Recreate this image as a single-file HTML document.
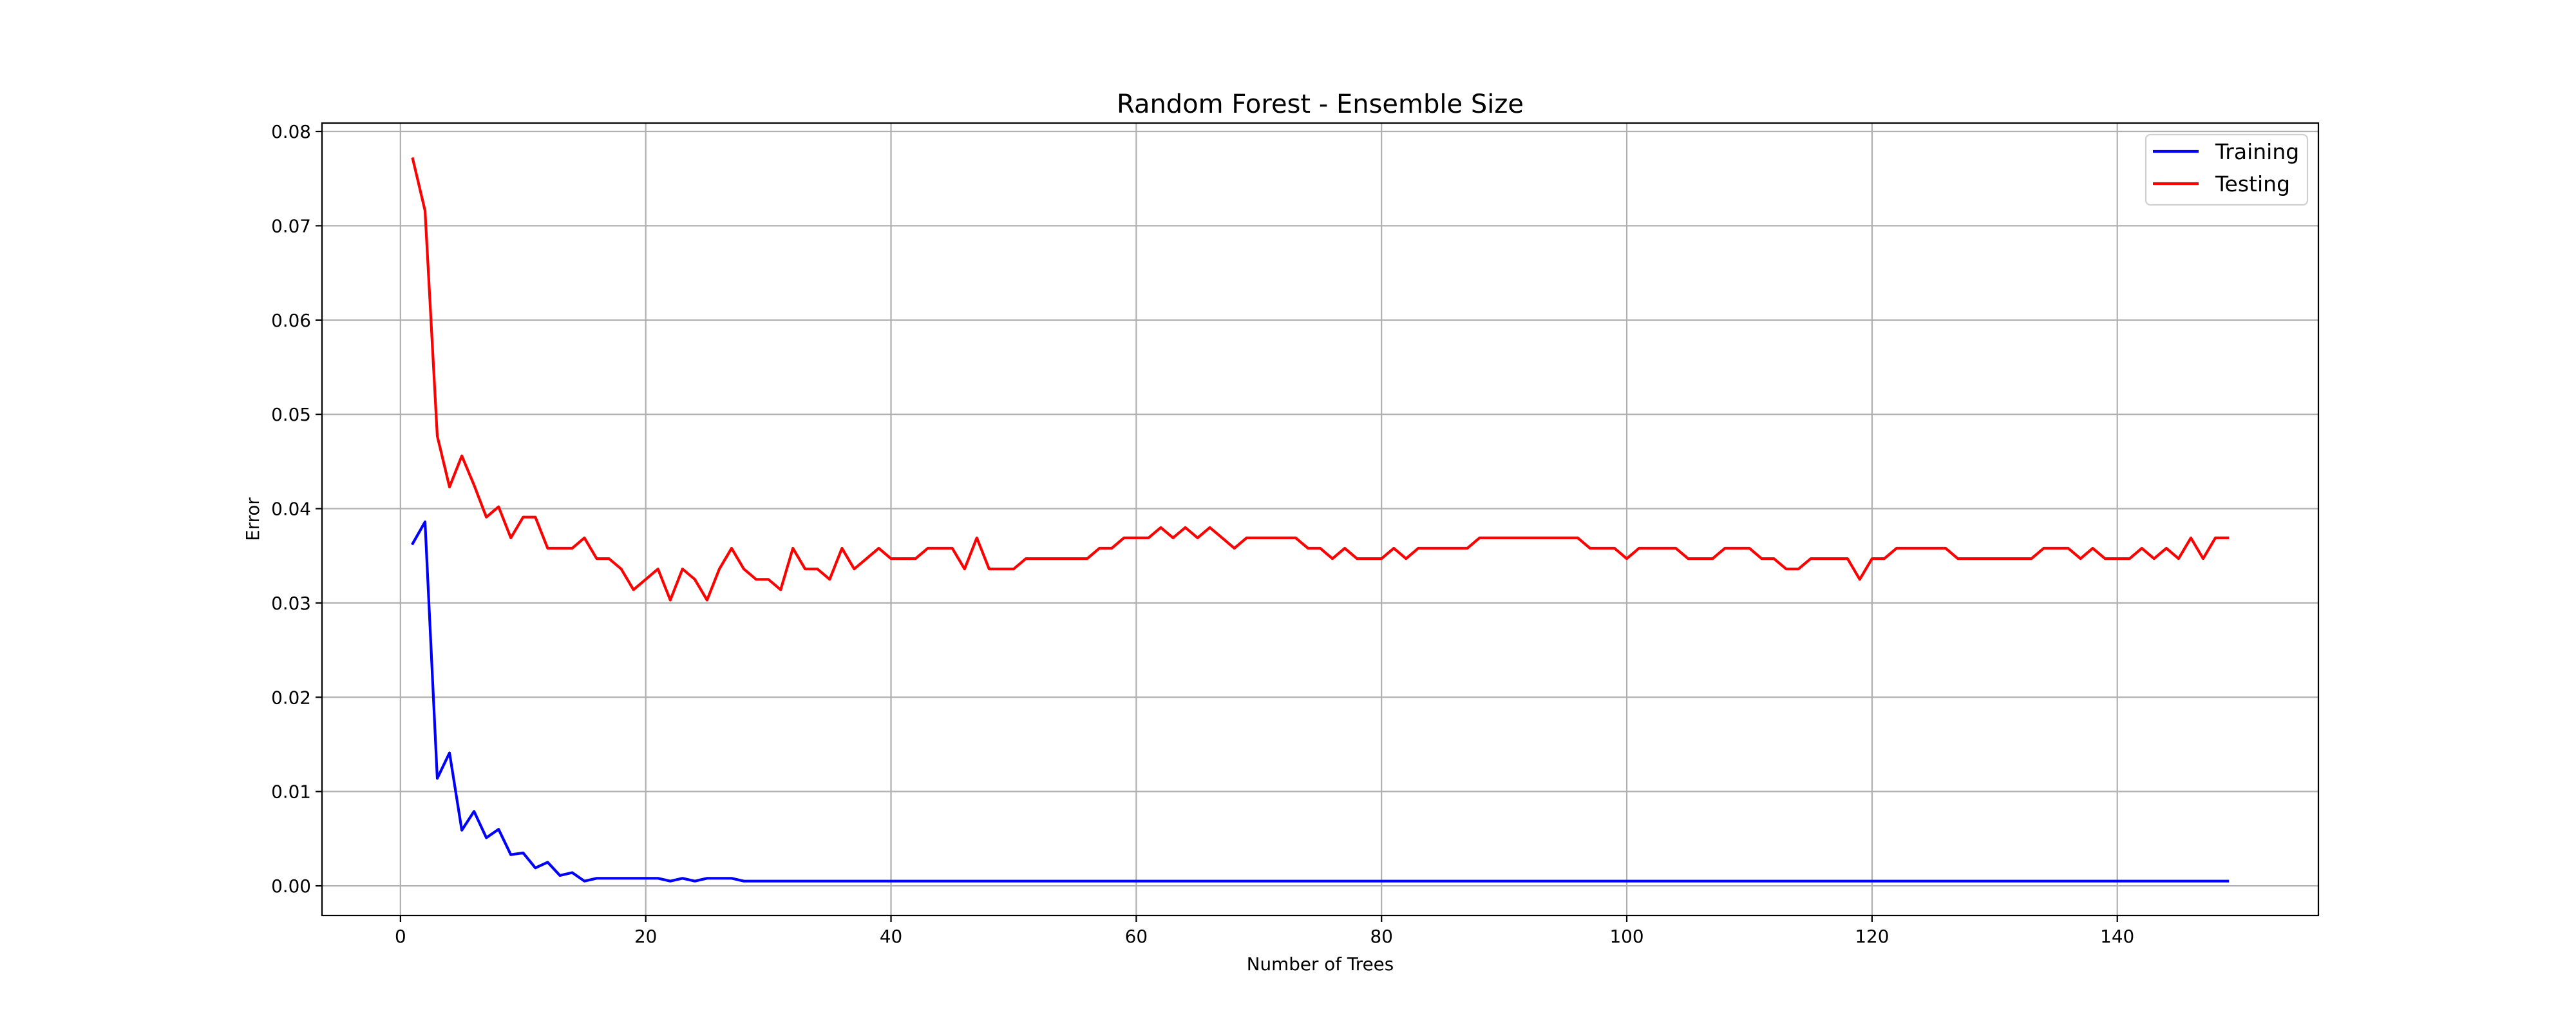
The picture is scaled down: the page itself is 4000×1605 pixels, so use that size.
<!DOCTYPE html>
<html><head><meta charset="utf-8"><style>
html,body{margin:0;padding:0;background:#fff;}
svg text{font-family:"DejaVu Sans","Liberation Sans",sans-serif;}
</style></head><body>
<svg id="chart" width="4000" height="1600" viewBox="0 0 4000 1600" xmlns="http://www.w3.org/2000/svg">
<rect x="0" y="0" width="4000" height="1600" fill="#fff"/>
<g id="grid"></g>
<g id="series"></g>
<rect x="500" y="191" width="3100" height="1230" fill="none" stroke="#000" stroke-width="2.2"/>
<g id="ticks"></g>
<text x="2050" y="175" font-size="40" text-anchor="middle">Random Forest - Ensemble Size</text>
<text x="2050" y="1506" font-size="27.8" text-anchor="middle">Number of Trees</text>
<text x="402" y="806" font-size="27.8" text-anchor="middle" transform="rotate(-90 402 806)">Error</text>
<g>
<rect x="3332" y="209" width="251" height="109" rx="7" fill="#fff" fill-opacity="0.8" stroke="#d0d0d0" stroke-width="2.2"/>
<line x1="3343" y1="235" x2="3414" y2="235" stroke="#0000ff" stroke-width="4.2"/>
<text x="3440" y="247" font-size="33">Training</text>
<line x1="3343" y1="285" x2="3414" y2="285" stroke="#ff0000" stroke-width="4.2"/>
<text x="3440" y="297" font-size="33">Testing</text>
</g>
</svg>
<script>
const trainValues = [0.0363,0.0386,0.0114,0.0141,0.0059,0.0079,0.0051,0.0060,0.0033,0.0035,
0.0019,0.0025,0.0011,0.0014,0.0005,0.0008,0.0008,0.0008,0.0008,0.0008,
0.0008,0.0005,0.0008,0.0005,0.0008,0.0008,0.0008,0.0005,0.0005,0.0005,
0.0005,0.0005,0.0005,0.0005,0.0005,0.0005,0.0005,0.0005,0.0005,0.0005,
0.0005,0.0005,0.0005,0.0005,0.0005,0.0005,0.0005,0.0005,0.0005,0.0005,
0.0005,0.0005,0.0005,0.0005,0.0005,0.0005,0.0005,0.0005,0.0005,0.0005,
0.0005,0.0005,0.0005,0.0005,0.0005,0.0005,0.0005,0.0005,0.0005,0.0005,
0.0005,0.0005,0.0005,0.0005,0.0005,0.0005,0.0005,0.0005,0.0005,0.0005,
0.0005,0.0005,0.0005,0.0005,0.0005,0.0005,0.0005,0.0005,0.0005,0.0005,
0.0005,0.0005,0.0005,0.0005,0.0005,0.0005,0.0005,0.0005,0.0005,0.0005,
0.0005,0.0005,0.0005,0.0005,0.0005,0.0005,0.0005,0.0005,0.0005,0.0005,
0.0005,0.0005,0.0005,0.0005,0.0005,0.0005,0.0005,0.0005,0.0005,0.0005,
0.0005,0.0005,0.0005,0.0005,0.0005,0.0005,0.0005,0.0005,0.0005,0.0005,
0.0005,0.0005,0.0005,0.0005,0.0005,0.0005,0.0005,0.0005,0.0005,0.0005,
0.0005,0.0005,0.0005,0.0005,0.0005,0.0005,0.0005,0.0005,0.0005];
const testValues = [0.0771,0.0716,0.0477,0.0423,0.0456,0.0425,0.0391,0.0402,0.0369,0.0391,
0.0391,0.0358,0.0358,0.0358,0.0369,0.0347,0.0347,0.0336,0.0314,0.0325,
0.0336,0.0303,0.0336,0.0325,0.0303,0.0336,0.0358,0.0336,0.0325,0.0325,
0.0314,0.0358,0.0336,0.0336,0.0325,0.0358,0.0336,0.0347,0.0358,0.0347,
0.0347,0.0347,0.0358,0.0358,0.0358,0.0336,0.0369,0.0336,0.0336,0.0336,
0.0347,0.0347,0.0347,0.0347,0.0347,0.0347,0.0358,0.0358,0.0369,0.0369,
0.0369,0.0380,0.0369,0.0380,0.0369,0.0380,0.0369,0.0358,0.0369,0.0369,
0.0369,0.0369,0.0369,0.0358,0.0358,0.0347,0.0358,0.0347,0.0347,0.0347,
0.0358,0.0347,0.0358,0.0358,0.0358,0.0358,0.0358,0.0369,0.0369,0.0369,
0.0369,0.0369,0.0369,0.0369,0.0369,0.0369,0.0358,0.0358,0.0358,0.0347,
0.0358,0.0358,0.0358,0.0358,0.0347,0.0347,0.0347,0.0358,0.0358,0.0358,
0.0347,0.0347,0.0336,0.0336,0.0347,0.0347,0.0347,0.0347,0.0325,0.0347,
0.0347,0.0358,0.0358,0.0358,0.0358,0.0358,0.0347,0.0347,0.0347,0.0347,
0.0347,0.0347,0.0347,0.0358,0.0358,0.0358,0.0347,0.0358,0.0347,0.0347,
0.0347,0.0358,0.0347,0.0358,0.0347,0.0369,0.0347,0.0369,0.0369];
const xTicks = [0,20,40,60,80,100,120,140];
const yTicks = [0.00,0.01,0.02,0.03,0.04,0.05,0.06,0.07,0.08];

const NS = "http://www.w3.org/2000/svg";
const L=500,R=3600,T=191,B=1421;
const xMin=-6.4,xMax=156.4,yMin=-0.00314,yMax=0.08089;
function xs(v){return L+(v-xMin)/(xMax-xMin)*(R-L);}
function ys(v){return B-(v-yMin)/(yMax-yMin)*(B-T);}
function mk(tag,attrs,parent){const e=document.createElementNS(NS,tag);for(const k in attrs)e.setAttribute(k,attrs[k]);parent.appendChild(e);return e;}
const grid=document.getElementById('grid'),ticks=document.getElementById('ticks'),series=document.getElementById('series');
xTicks.forEach(t=>{
  const x=xs(t);
  const g=mk('line',{x1:x,y1:T,x2:x,y2:B,stroke:'#b0b0b0','stroke-width':2.2},grid);
  
  
  const tk=mk('line',{x1:x,y1:B,x2:x,y2:B+10,stroke:'#000','stroke-width':2.2},ticks);
  
  
  const tx=mk('text',{x:x,y:B+42,'font-size':27.8,'text-anchor':'middle'},ticks);
  tx.textContent=String(t);
  
  
});
yTicks.forEach(t=>{
  const y=ys(t);
  const g=mk('line',{x1:L,y1:y,x2:R,y2:y,stroke:'#b0b0b0','stroke-width':2.2},grid);
  
  
  const tk=mk('line',{x1:L-10,y1:y,x2:L,y2:y,stroke:'#000','stroke-width':2.2},ticks);
  
  
  const tx=mk('text',{x:L-17,y:y+10,'font-size':27.8,'text-anchor':'end'},ticks);
  tx.textContent=t.toFixed(2);
  
  
});
function pts(arr){return arr.map((v,i)=>xs(i+1).toFixed(1)+','+ys(v).toFixed(1)).join(' ');}
const tr=mk('polyline',{points:pts(trainValues),fill:'none',stroke:'#0000ff','stroke-width':4.2,'stroke-linejoin':'round','stroke-linecap':'square'},series);


const te=mk('polyline',{points:pts(testValues),fill:'none',stroke:'#ff0000','stroke-width':4.2,'stroke-linejoin':'round','stroke-linecap':'square'},series);


</script>
</body></html>
